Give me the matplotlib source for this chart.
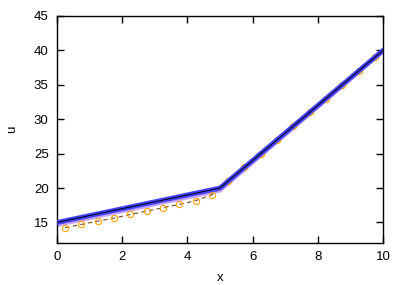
import matplotlib
matplotlib.use("Agg")
import matplotlib.pyplot as plt

plt.rcParams['font.family'] = ['Liberation Sans', 'DejaVu Sans']

# piecewise-linear solution (breakpoints)
x_exact = [0, 5, 10]
u_exact = [15, 20, 40]
u_lower = [14.6, 19.6, 39.8]

# approximate points (orange circles)
x_pts = [0.25, 0.75, 1.25, 1.75, 2.25, 2.75, 3.25, 3.75, 4.25, 4.75,
         5.25, 5.75, 6.25, 6.75, 7.25, 7.75, 8.25, 8.75, 9.25, 9.75]
u_pts = [14.23, 14.71, 15.19, 15.63, 16.16, 16.64, 17.14, 17.62, 18.16, 19.03,
         21.0, 23.0, 25.0, 27.0, 29.0, 31.0, 33.0, 35.0, 37.0, 39.0]

fig = plt.figure(figsize=(4.07, 2.85), dpi=100)
ax = fig.add_axes([0.140, 0.147, 0.801, 0.797])

ax.plot(x_pts, u_pts, color="#7a4a1a", lw=0.8, ls=(0, (4, 3)), zorder=2)
ax.plot(x_pts, u_pts, "o", mfc="none", mec="#ffa500", ms=4.5, mew=0.8, zorder=3)
ax.plot(x_exact, u_lower, color="#c8a0ff", lw=2.5, zorder=1)
ax.plot(x_exact, u_exact, color="#4040ff", lw=3.5, zorder=4)
ax.plot(x_exact, u_exact, color="black", lw=0.7, zorder=5)

ax.set_xlim(0, 10)
ax.set_ylim(12, 45)
ax.set_xticks([0, 2, 4, 6, 8, 10])
ax.set_yticks([15, 20, 25, 30, 35, 40, 45])
ax.tick_params(direction="in", top=True, right=True, labelsize=9.5, length=5, width=1, pad=6)
for s in ax.spines.values():
    s.set_linewidth(1)
ax.set_xlabel("x", fontsize=9.5, labelpad=6)
ax.set_ylabel("u", fontsize=9.5, labelpad=11)

fig.savefig("out.png", dpi=100)
